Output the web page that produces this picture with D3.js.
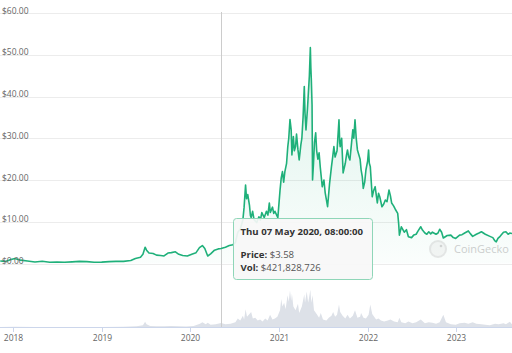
<!DOCTYPE html>
<html>
<head>
<meta charset="utf-8">
<script src="https://cdn.jsdelivr.net/npm/d3@7"></script>
<style>
  body { margin: 0; background: #fff; }
  svg { display: block; font-family: "Open Sans", sans-serif; }
</style>
</head>
<body>
<div id="chart"></div>
<script>
// price history, [date, usd]
const priceData = [
  ["2017-11-09", 0.6], ["2017-12-01", 0.5], ["2017-12-20", 0.9], ["2018-01-08", 1.2],
  ["2018-02-01", 0.8], ["2018-03-01", 0.6], ["2018-04-01", 0.35], ["2018-05-01", 0.55],
  ["2018-06-01", 0.3], ["2018-07-01", 0.35], ["2018-08-01", 0.3], ["2018-09-01", 0.4],
  ["2018-10-01", 0.5], ["2018-11-01", 0.45], ["2018-12-01", 0.3], ["2019-01-01", 0.32],
  ["2019-02-01", 0.45], ["2019-03-01", 0.5], ["2019-04-01", 0.5], ["2019-05-01", 0.7],
  ["2019-05-20", 1.2], ["2019-06-10", 1.5], ["2019-06-20", 2.2], ["2019-06-29", 3.9],
  ["2019-07-05", 3.2], ["2019-07-15", 2.5], ["2019-08-01", 2.4], ["2019-08-15", 2.0],
  ["2019-09-01", 1.9], ["2019-09-15", 1.8], ["2019-10-01", 2.5], ["2019-10-15", 2.6],
  ["2019-11-01", 2.8], ["2019-11-15", 2.2], ["2019-12-01", 1.9], ["2019-12-20", 1.8],
  ["2020-01-10", 2.3], ["2020-01-25", 2.6], ["2020-02-08", 3.8], ["2020-02-20", 4.3],
  ["2020-03-01", 3.6], ["2020-03-13", 1.8], ["2020-03-25", 2.3], ["2020-04-10", 3.2],
  ["2020-04-25", 3.5], ["2020-05-07", 3.58], ["2020-05-25", 3.9], ["2020-06-10", 4.3],
  ["2020-06-25", 4.5], ["2020-07-05", 5.0], ["2020-07-15", 7.5], ["2020-07-25", 8.2],
  ["2020-08-05", 10.5], ["2020-08-10", 13.5], ["2020-08-16", 18.8], ["2020-08-20", 15.5],
  ["2020-08-25", 16.5], ["2020-09-01", 14], ["2020-09-05", 11.5], ["2020-09-08", 11],
  ["2020-09-14", 12.5], ["2020-09-20", 10.5], ["2020-10-01", 9.8], ["2020-10-10", 11.2],
  ["2020-10-16", 10.4], ["2020-10-22", 12.2], ["2020-11-01", 11.0], ["2020-11-10", 12.5],
  ["2020-11-16", 11.6], ["2020-11-22", 14.5], ["2020-11-26", 12.2], ["2020-12-05", 13.5],
  ["2020-12-10", 12.0], ["2020-12-15", 12.5], ["2020-12-27", 11.0], ["2021-01-05", 17.5],
  ["2021-01-10", 20.5], ["2021-01-15", 22], ["2021-01-20", 19.5], ["2021-01-25", 22],
  ["2021-02-01", 24], ["2021-02-06", 28], ["2021-02-10", 30], ["2021-02-15", 34.5],
  ["2021-02-20", 32], ["2021-02-23", 26], ["2021-03-01", 30.4], ["2021-03-05", 27],
  ["2021-03-10", 28], ["2021-03-14", 31], ["2021-03-20", 27.2], ["2021-03-25", 24.8],
  ["2021-04-01", 28.5], ["2021-04-05", 30], ["2021-04-10", 35], ["2021-04-15", 42.4],
  ["2021-04-18", 36], ["2021-04-22", 32], ["2021-04-28", 37], ["2021-05-01", 40],
  ["2021-05-06", 45], ["2021-05-10", 51.7], ["2021-05-12", 47], ["2021-05-14", 44],
  ["2021-05-17", 38], ["2021-05-19", 20], ["2021-05-23", 24], ["2021-05-27", 29],
  ["2021-06-01", 31.3], ["2021-06-05", 27], ["2021-06-10", 25], ["2021-06-15", 26.5],
  ["2021-06-20", 23], ["2021-06-28", 18.4], ["2021-07-05", 20], ["2021-07-10", 17],
  ["2021-07-20", 13.6], ["2021-07-28", 19], ["2021-08-05", 23.2], ["2021-08-10", 25.5],
  ["2021-08-15", 28], ["2021-08-20", 25.5], ["2021-08-28", 27], ["2021-09-05", 34.4],
  ["2021-09-08", 29], ["2021-09-10", 28], ["2021-09-16", 30], ["2021-09-22", 21.7],
  ["2021-10-01", 24], ["2021-10-06", 26], ["2021-10-10", 27.2], ["2021-10-15", 25.5],
  ["2021-10-20", 24.8], ["2021-10-27", 29], ["2021-11-01", 32], ["2021-11-05", 30],
  ["2021-11-10", 34.4], ["2021-11-15", 30], ["2021-11-20", 27.2], ["2021-12-01", 25],
  ["2021-12-05", 22.5], ["2021-12-10", 20.8], ["2021-12-14", 18], ["2021-12-20", 19.5],
  ["2021-12-25", 22.4], ["2022-01-01", 24.5], ["2022-01-05", 27.2], ["2022-01-08", 24],
  ["2022-01-12", 23.2], ["2022-01-20", 16], ["2022-01-26", 17.5], ["2022-02-01", 18.4],
  ["2022-02-10", 14.5], ["2022-02-15", 16.8], ["2022-02-20", 16], ["2022-03-01", 13.6],
  ["2022-03-08", 14.2], ["2022-03-15", 15.2], ["2022-03-22", 14.8], ["2022-03-30", 17.6],
  ["2022-04-05", 16.2], ["2022-04-10", 14.5], ["2022-04-18", 13.8], ["2022-04-25", 13],
  ["2022-05-05", 12], ["2022-05-09", 9.5], ["2022-05-12", 6.8], ["2022-05-20", 8.8],
  ["2022-06-01", 7.5], ["2022-06-10", 8.1], ["2022-06-18", 6.4], ["2022-07-01", 6.2],
  ["2022-07-10", 6.8], ["2022-07-20", 7.0], ["2022-07-28", 7.8], ["2022-08-08", 8.8],
  ["2022-08-15", 8.0], ["2022-08-25", 7.3], ["2022-09-02", 7.0], ["2022-09-10", 7.6],
  ["2022-09-18", 7.1], ["2022-09-25", 7.5], ["2022-10-10", 7.0], ["2022-10-18", 7.3],
  ["2022-10-25", 8.2], ["2022-11-02", 7.5], ["2022-11-09", 6.1], ["2022-11-25", 6.7],
  ["2022-12-10", 6.8], ["2022-12-20", 6.2], ["2022-12-30", 6.0], ["2023-01-15", 6.8],
  ["2023-01-25", 6.9], ["2023-02-05", 7.3], ["2023-02-20", 7.8], ["2023-03-01", 7.1],
  ["2023-03-10", 6.5], ["2023-03-25", 7.0], ["2023-04-05", 7.3], ["2023-04-15", 7.6],
  ["2023-05-01", 7.0], ["2023-05-20", 6.5], ["2023-06-01", 6.2], ["2023-06-10", 5.4],
  ["2023-06-15", 5.2], ["2023-06-22", 6.0], ["2023-07-01", 6.5], ["2023-07-15", 7.5],
  ["2023-07-25", 7.6], ["2023-08-03", 7.0], ["2023-08-10", 7.3], ["2023-08-19", 7.2]
];

// volume, [date, billions usd]
const volumeData = [
  ["2017-11-09", 0.01], ["2018-01-08", 0.03], ["2018-04-01", 0.01], ["2018-07-01", 0.01],
  ["2018-10-01", 0.01], ["2019-01-01", 0.01], ["2019-04-01", 0.02], ["2019-05-25", 0.08],
  ["2019-06-20", 0.2], ["2019-06-29", 0.55], ["2019-07-05", 0.3], ["2019-07-20", 0.12],
  ["2019-08-15", 0.08], ["2019-09-15", 0.07], ["2019-10-15", 0.1], ["2019-11-15", 0.09],
  ["2019-12-15", 0.06], ["2020-01-15", 0.12], ["2020-02-10", 0.35], ["2020-02-20", 0.5],
  ["2020-03-05", 0.3], ["2020-03-13", 0.45], ["2020-03-25", 0.25], ["2020-04-15", 0.3],
  ["2020-05-07", 0.42], ["2020-05-25", 0.3], ["2020-06-15", 0.35], ["2020-07-05", 0.5],
  ["2020-07-15", 0.9], ["2020-07-25", 0.7], ["2020-08-05", 1.2], ["2020-08-10", 0.8],
  ["2020-08-16", 1.9], ["2020-08-22", 1.1], ["2020-09-01", 1.4], ["2020-09-08", 1.6],
  ["2020-09-15", 0.9], ["2020-09-25", 1.0], ["2020-10-05", 0.7], ["2020-10-15", 0.8],
  ["2020-10-25", 0.6], ["2020-11-05", 0.9], ["2020-11-15", 0.7], ["2020-11-25", 1.3],
  ["2020-12-05", 0.8], ["2020-12-15", 0.9], ["2020-12-25", 1.1], ["2021-01-05", 1.8],
  ["2021-01-10", 3.0], ["2021-01-15", 2.2], ["2021-01-22", 2.6], ["2021-01-28", 1.9],
  ["2021-02-05", 3.4], ["2021-02-10", 2.7], ["2021-02-15", 3.9], ["2021-02-20", 2.8],
  ["2021-02-23", 3.6], ["2021-03-01", 2.2], ["2021-03-10", 1.8], ["2021-03-20", 2.5],
  ["2021-03-25", 1.5], ["2021-04-05", 2.2], ["2021-04-15", 3.5], ["2021-04-18", 2.6],
  ["2021-04-25", 3.8], ["2021-05-01", 2.6], ["2021-05-05", 3.2], ["2021-05-10", 4.0],
  ["2021-05-14", 2.6], ["2021-05-19", 3.4], ["2021-05-25", 1.8], ["2021-06-05", 1.4],
  ["2021-06-15", 1.0], ["2021-06-22", 1.5], ["2021-07-01", 0.8], ["2021-07-15", 0.7],
  ["2021-07-25", 1.0], ["2021-08-05", 1.2], ["2021-08-12", 1.6], ["2021-08-20", 1.1],
  ["2021-08-28", 1.3], ["2021-09-05", 2.4], ["2021-09-10", 1.6], ["2021-09-20", 1.2],
  ["2021-10-01", 0.9], ["2021-10-10", 1.3], ["2021-10-20", 0.9], ["2021-11-01", 1.2],
  ["2021-11-10", 1.8], ["2021-11-20", 1.0], ["2021-12-01", 1.1], ["2021-12-05", 1.5],
  ["2021-12-15", 1.0], ["2021-12-25", 0.9], ["2022-01-05", 1.3], ["2022-01-12", 2.4],
  ["2022-01-20", 1.4], ["2022-01-25", 1.2], ["2022-02-05", 0.8], ["2022-02-15", 0.9],
  ["2022-02-25", 0.7], ["2022-03-10", 0.6], ["2022-03-25", 0.7], ["2022-04-05", 0.8],
  ["2022-04-20", 0.6], ["2022-05-05", 0.5], ["2022-05-12", 1.0], ["2022-05-20", 0.5],
  ["2022-06-05", 0.4], ["2022-06-18", 0.6], ["2022-07-05", 0.4], ["2022-07-20", 0.5],
  ["2022-08-08", 0.8], ["2022-08-25", 0.4], ["2022-09-10", 0.5], ["2022-09-25", 0.45],
  ["2022-10-10", 0.35], ["2022-10-25", 0.5], ["2022-11-09", 1.3], ["2022-11-20", 0.5],
  ["2022-12-10", 0.3], ["2022-12-30", 0.25], ["2023-01-15", 0.4], ["2023-02-05", 0.45],
  ["2023-02-20", 0.35], ["2023-03-10", 0.5], ["2023-03-25", 0.35], ["2023-04-15", 0.3],
  ["2023-05-01", 0.25], ["2023-05-20", 0.2], ["2023-06-10", 0.35], ["2023-06-25", 0.3],
  ["2023-07-15", 0.4], ["2023-07-25", 0.3], ["2023-08-10", 0.55], ["2023-08-19", 0.3]
];

const priceTicks = [0, 10, 20, 30, 40, 50, 60];
const yearTicks = ["2018", "2019", "2020", "2021", "2022", "2023"];

const hover = {
  date: "2020-05-07",
  title: "Thu 07 May 2020, 08:00:00",
  price: "$3.58",
  vol: "$421,828,726"
};

const width = 512, height = 353;
const green = "#1fb07a";
const parse = d3.utcParse("%Y-%m-%d");

const prices = priceData.map(d => ({ date: parse(d[0]), value: d[1] }));
const volumes = volumeData.map(d => ({ date: parse(d[0]), value: d[1] }));

const x = d3.scaleUtc()
  .domain([parse("2017-11-08"), parse("2023-08-19")])
  .range([0, width]);
const y = d3.scaleLinear().domain([0, 60]).range([263.5, 13]);
const yVol = d3.scaleLinear().domain([0, 6]).range([327, 271]);

const svg = d3.select("#chart").append("svg")
  .attr("width", width)
  .attr("height", height);

svg.append("rect").attr("width", width).attr("height", height).attr("fill", "#fff");

const defs = svg.append("defs");
const grad = defs.append("linearGradient")
  .attr("id", "fillGrad")
  .attr("x1", 0).attr("y1", 0).attr("x2", 0).attr("y2", 1);
grad.append("stop").attr("offset", "0%").attr("stop-color", green).attr("stop-opacity", 0.16);
grad.append("stop").attr("offset", "100%").attr("stop-color", green).attr("stop-opacity", 0.02);

// grid
svg.append("g")
  .selectAll("line")
  .data(priceTicks)
  .join("line")
  .attr("x1", 0).attr("x2", width)
  .attr("y1", d => Math.round(y(d)) + 0.5)
  .attr("y2", d => Math.round(y(d)) + 0.5)
  .attr("stroke", "#ececec");

// volume
svg.append("path")
  .datum(volumes)
  .attr("fill", "#dde1e8")
  .attr("d", d3.area().x(d => x(d.date)).y0(yVol(0)).y1(d => yVol(d.value)));

// x axis
const xAxis = svg.append("g").attr("transform", `translate(0,${yVol(0)})`);
xAxis.append("line")
  .attr("x1", 0).attr("x2", width)
  .attr("y1", 0.5).attr("y2", 0.5)
  .attr("stroke", "#ccd6eb");
const xt = xAxis.selectAll("g.tick")
  .data(yearTicks)
  .join("g")
  .attr("transform", d => `translate(${Math.round(x(parse(d + "-01-01"))) + 0.5},0)`);
xt.append("line").attr("y1", 0).attr("y2", 5).attr("stroke", "#ccd6eb");
xt.append("text")
  .attr("y", 14)
  .attr("text-anchor", "middle")
  .attr("font-size", "8.5px")
  .attr("fill", "#666")
  .text(d => d);

// crosshair
svg.append("line")
  .attr("x1", Math.round(x(parse(hover.date))) + 0.5)
  .attr("x2", Math.round(x(parse(hover.date))) + 0.5)
  .attr("y1", 12).attr("y2", yVol(0))
  .attr("stroke", "#cccccc");

// price area + line
svg.append("path")
  .datum(prices)
  .attr("fill", "url(#fillGrad)")
  .attr("d", d3.area().x(d => x(d.date)).y0(y(0)).y1(d => y(d.value)));

svg.append("path")
  .datum(prices)
  .attr("fill", "none")
  .attr("stroke", green)
  .attr("stroke-width", 1.6)
  .attr("stroke-linejoin", "round")
  .attr("d", d3.line().x(d => x(d.date)).y(d => y(d.value)));

// y labels
svg.append("g")
  .selectAll("text")
  .data(priceTicks)
  .join("text")
  .attr("x", 2)
  .attr("y", d => y(d) + 0.5)
  .attr("font-size", "8.5px")
  .attr("fill", "#666")
  .text(d => "$" + d3.format(".2f")(d));

// watermark
const wm = svg.append("g").attr("opacity", 0.35);
wm.append("circle").attr("cx", 438).attr("cy", 249).attr("r", 9).attr("fill", "#bbb");
wm.append("circle").attr("cx", 438).attr("cy", 249).attr("r", 7).attr("fill", "#e4e4e4");
wm.append("circle").attr("cx", 441).attr("cy", 246).attr("r", 1.3).attr("fill", "#888");
wm.append("text")
  .attr("x", 454).attr("y", 253)
  .attr("font-size", "11px")
  .attr("fill", "#777")
  .text("CoinGecko");

// tooltip
const tip = svg.append("g").attr("transform", "translate(233.5,218.5)");
tip.append("rect")
  .attr("width", 139).attr("height", 61)
  .attr("rx", 3)
  .attr("fill", "rgba(247,247,247,0.92)")
  .attr("stroke", "#8fd6b8");
tip.append("text")
  .attr("x", 7).attr("y", 16)
  .attr("font-size", "9.6px").attr("font-weight", "bold").attr("fill", "#333")
  .text(hover.title);
const l1 = tip.append("text").attr("x", 7).attr("y", 39).attr("font-size", "9.6px").attr("fill", "#333");
l1.append("tspan").attr("font-weight", "bold").text("Price: ");
l1.append("tspan").attr("fill", "#555").text(hover.price);
const l2 = tip.append("text").attr("x", 7).attr("y", 52).attr("font-size", "9.6px").attr("fill", "#333");
l2.append("tspan").attr("font-weight", "bold").text("Vol: ");
l2.append("tspan").attr("fill", "#555").text(hover.vol);
</script>
</body>
</html>
